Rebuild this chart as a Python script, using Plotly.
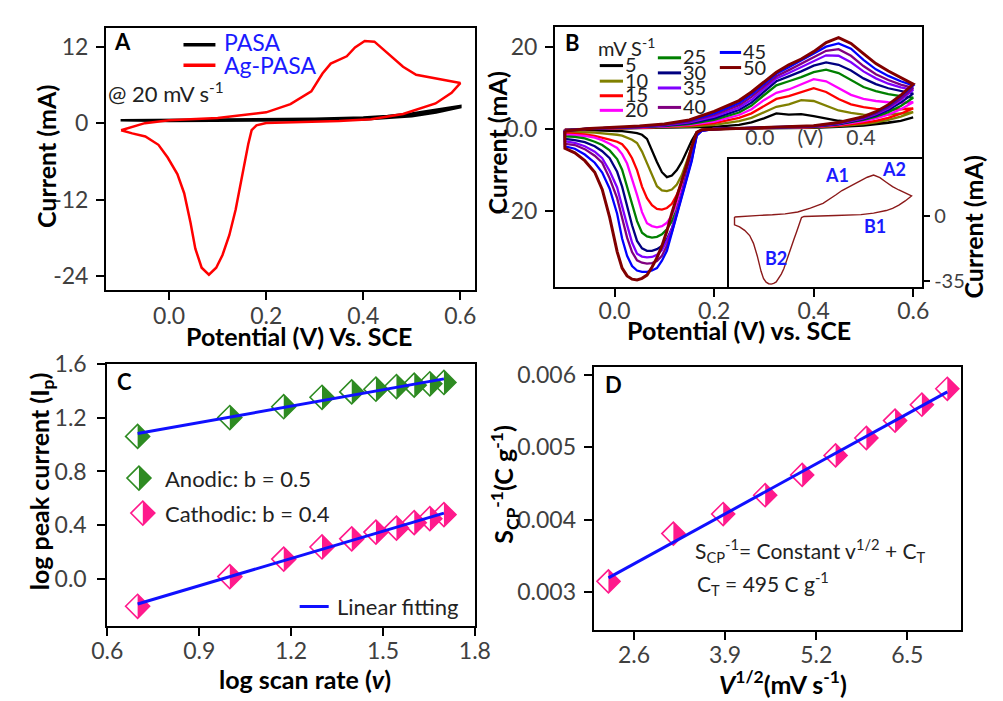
import numpy as np
import plotly.graph_objects as go

W, H = 1003, 701
FONT = "Lato"
TICKC = "#404040"

# ---------------- Panel A data (potential V, current mA) ----------------
pasa_v = [-0.1, 0.0, 0.1, 0.2, 0.3, 0.4, 0.45, 0.5, 0.55, 0.6,
          0.6, 0.55, 0.5, 0.45, 0.4, 0.3, 0.2, 0.1, 0.0, -0.1]
pasa_i = [0.45, 0.5, 0.55, 0.6, 0.7, 0.9, 1.1, 1.5, 2.1, 2.7,
          2.5, 1.7, 1.1, 0.8, 0.6, 0.45, 0.4, 0.35, 0.35, 0.45]
agpasa_v = [-0.099, -0.05, 0.0, 0.1, 0.2, 0.25, 0.293, 0.316, 0.333, 0.366, 0.383, 0.403,
            0.423, 0.449, 0.482, 0.509, 0.549, 0.6, 0.582, 0.549, 0.482, 0.416, 0.35, 0.2,
            0.18, 0.17, 0.163, 0.150, 0.137, 0.124, 0.110, 0.097, 0.082, 0.067, 0.054, 0.044,
            0.031, 0.017, -0.003, -0.022, -0.049, -0.076, -0.099]
agpasa_i = [-1.1, 0.0, 0.44, 0.8, 1.7, 3.0, 5.0, 7.8, 9.35, 10.5, 11.9, 12.9,
            12.8, 11.1, 8.85, 7.6, 7.05, 6.3, 4.77, 3.1, 1.45, 0.6, 0.34, 0.03,
            -0.33, -1.1, -3.3, -8.5, -13.6, -17.6, -20.7, -22.7, -23.8, -22.7, -19.7, -15.6,
            -11.0, -8.0, -5.4, -3.4, -2.1, -1.6, -1.1]

# ---------------- Panel B data ----------------
scan_rates = [5, 10, 15, 20, 25, 30, 35, 40, 45, 50]
scan_colors = ["#000000", "#808000", "#ff0000", "#ff00ff", "#008000",
               "#000080", "#8000ff", "#800080", "#0000ff", "#800000"]
fwd_v = [-0.1, -0.05, 0.0, 0.05, 0.1, 0.15, 0.2, 0.25, 0.275, 0.3, 0.325, 0.35,
         0.375, 0.4, 0.425, 0.45, 0.475, 0.5, 0.525, 0.55, 0.575, 0.6]
rev_v = [0.6, 0.575, 0.55, 0.525, 0.5, 0.45, 0.4, 0.3, 0.2, 0.175, 0.165, 0.155,
         0.145, 0.135, 0.125, 0.115, 0.105, 0.095, 0.085, 0.075, 0.065, 0.055, 0.045,
         0.035, 0.025, 0.015, 0.005, -0.01, -0.025, -0.04, -0.06, -0.08, -0.1]

fwd_05 = [-0.1, 0.0, 0.05, 0.1, 0.2, 0.3, 0.5, 1.0, 1.6, 2.6, 3.8, 3.5, 3.6, 3.1, 2.5, 2.0, 1.7, 1.6, 1.5, 1.6, 2.0, 2.8]
fwd_10 = [-0.1, 0.05, 0.1, 0.2, 0.35, 0.6, 1.0, 1.9, 2.7, 4.0, 5.4, 6.0, 7.0, 6.8, 5.6, 4.5, 3.9, 3.5, 3.4, 3.5, 3.8, 4.1]
fwd_15 = [-0.2, 0.05, 0.15, 0.3, 0.5, 0.8, 1.4, 2.7, 3.8, 5.6, 7.3, 8.0, 9.0, 9.9, 9.0, 7.3, 6.0, 5.3, 4.9, 4.7, 4.8, 5.0]
fwd_20 = [-0.2, 0.1, 0.2, 0.35, 0.6, 1.0, 1.8, 3.4, 4.8, 7.0, 8.8, 9.6, 10.8, 12.1, 11.6, 10.0, 8.3, 7.3, 6.8, 6.5, 6.4, 6.5]
fwd_25 = [-0.3, 0.1, 0.25, 0.4, 0.7, 1.2, 2.2, 4.0, 5.7, 8.2, 10.6, 11.6, 12.6, 13.8, 14.4, 13.6, 11.8, 10.2, 9.2, 8.5, 8.0, 7.6]
fwd_30 = [-0.3, 0.1, 0.3, 0.45, 0.8, 1.4, 2.6, 4.6, 6.4, 9.0, 11.6, 12.8, 14.0, 15.4, 16.2, 15.6, 14.2, 12.3, 10.9, 9.9, 9.2, 8.6]
fwd_35 = [-0.4, 0.1, 0.3, 0.5, 0.9, 1.6, 3.0, 5.2, 7.1, 9.8, 12.3, 13.6, 15.0, 16.6, 17.9, 17.8, 16.2, 14.0, 12.3, 11.0, 10.1, 9.5]
fwd_40 = [-0.4, 0.1, 0.35, 0.55, 1.0, 1.8, 3.4, 5.8, 7.8, 10.4, 12.8, 14.3, 15.8, 17.5, 19.0, 19.4, 17.8, 15.3, 13.3, 11.9, 10.8, 10.0]
fwd_45 = [-0.5, 0.1, 0.35, 0.6, 1.1, 2.0, 3.8, 6.3, 8.4, 10.9, 13.4, 15.0, 16.6, 18.3, 20.0, 20.8, 19.5, 16.8, 14.5, 12.9, 11.6, 10.6]
fwd_50 = [-0.5, 0.1, 0.4, 0.7, 1.2, 2.2, 4.3, 6.9, 9.0, 11.4, 13.8, 15.6, 17.0, 18.8, 21.0, 22.2, 20.8, 18.3, 15.9, 14.1, 12.5, 10.9]

rev_05 = [2.8, 2.0, 1.5, 1.1, 0.8, 0.5, 0.3, 0.15, 0.0, -0.3, -0.8, -2.8, -5.5, -8.0, -10.0, -11.3, -11.7,
          -10.5, -8.0, -5.0, -2.4, -1.4, -1.0, -0.8, -0.6, -0.5, -0.5, -0.4, -0.4, -0.35, -0.3, -0.3, -0.3]
rev_10 = [4.1, 3.0, 2.2, 1.6, 1.2, 0.7, 0.4, 0.2, 0.0, -0.3, -0.9, -4.5, -7.8, -11.2, -13.5, -14.7, -15.1,
          -14.9, -13.9, -11.3, -8.3, -5.5, -3.4, -2.6, -2.0, -1.6, -1.4, -1.2, -1.1, -0.9, -0.8, -0.75, -0.7]
rev_15 = [5.0, 3.7, 2.7, 2.0, 1.5, 0.8, 0.45, 0.2, 0.0, -0.3, -1.0, -5.0, -9.3, -12.8, -16.0, -18.2, -19.2,
          -19.6, -19.4, -18.5, -16.8, -14.0, -10.0, -7.1, -5.1, -3.7, -3.1, -2.6, -2.1, -1.7, -1.3, -1.1, -1.0]
rev_20 = [6.5, 4.8, 3.5, 2.6, 1.9, 1.0, 0.5, 0.25, 0.0, -0.3, -1.1, -5.5, -10.3, -14.6, -18.3, -21.0, -22.8,
          -23.6, -23.9, -23.6, -22.9, -20.2, -16.0, -11.9, -8.4, -6.1, -4.6, -3.6, -2.7, -2.1, -1.7, -1.5, -1.4]
rev_25 = [7.6, 5.6, 4.1, 3.0, 2.2, 1.1, 0.55, 0.25, 0.0, -0.3, -1.2, -6.0, -11.0, -15.8, -19.6, -22.4, -24.4,
          -25.6, -26.2, -26.4, -26.1, -25.2, -22.4, -18.4, -14.0, -9.9, -7.3, -5.2, -3.9, -3.1, -2.3, -1.9, -1.8]
rev_30 = [8.6, 6.4, 4.6, 3.3, 2.4, 1.2, 0.6, 0.3, 0.0, -0.35, -1.3, -6.5, -11.3, -16.0, -20.4, -24.2, -26.8,
          -28.4, -29.2, -29.6, -29.6, -29.0, -27.2, -23.4, -18.5, -14.0, -10.4, -7.1, -5.4, -4.2, -3.2, -2.7, -2.4]
rev_35 = [9.5, 7.0, 5.0, 3.6, 2.6, 1.3, 0.65, 0.3, 0.0, -0.4, -1.4, -7.0, -11.4, -16.0, -20.2, -24.3, -27.2,
          -29.4, -30.6, -31.1, -31.2, -31.0, -30.3, -27.6, -23.3, -18.5, -14.2, -10.2, -7.1, -5.5, -4.2, -3.4, -3.0]
rev_40 = [10.0, 7.4, 5.3, 3.8, 2.7, 1.4, 0.7, 0.3, 0.0, -0.4, -1.5, -7.4, -11.8, -16.3, -20.6, -25.0, -28.4,
          -30.8, -32.1, -32.6, -32.7, -32.5, -31.9, -29.9, -26.4, -21.5, -16.8, -12.0, -8.2, -6.5, -4.9, -3.9, -3.6]
rev_45 = [10.6, 7.9, 5.6, 4.0, 2.9, 1.5, 0.75, 0.3, 0.0, -0.45, -1.6, -7.8, -12.2, -16.8, -21.3, -25.7, -29.6,
          -32.0, -33.8, -34.4, -34.7, -34.7, -34.4, -33.3, -30.8, -26.6, -20.6, -14.5, -10.6, -8.2, -6.2, -4.8, -4.2]
rev_50 = [10.9, 8.2, 5.9, 4.2, 3.0, 1.6, 0.8, 0.35, 0.0, -0.2, -0.8, -4.3, -8.7, -12.5, -16.5, -20.4, -24.8,
          -28.4, -31.3, -33.6, -35.5, -36.3, -36.7, -36.5, -35.7, -33.8, -29.8, -21.5, -14.7, -10.5, -7.7, -5.8, -4.7]

fwd_all = [fwd_05, fwd_10, fwd_15, fwd_20, fwd_25, fwd_30, fwd_35, fwd_40, fwd_45, fwd_50]
rev_all = [rev_05, rev_10, rev_15, rev_20, rev_25, rev_30, rev_35, rev_40, rev_45, rev_50]

# ---------------- Panel C data ----------------
log_scan = [0.699, 1.0, 1.176, 1.301, 1.398, 1.477, 1.544, 1.602, 1.653, 1.699]
log_ip_anodic = [1.06, 1.20, 1.28, 1.35, 1.39, 1.41, 1.43, 1.44, 1.45, 1.46]
log_ip_cathodic = [-0.20, 0.02, 0.15, 0.24, 0.30, 0.35, 0.38, 0.42, 0.45, 0.48]

# ---------------- Panel D data ----------------
sqrt_scan = [2.236, 3.162, 3.873, 4.472, 5.0, 5.477, 5.916, 6.325, 6.708, 7.071]
inv_scp = [0.00315, 0.00381, 0.00408, 0.00434, 0.00462, 0.00489, 0.00513, 0.00537, 0.00559, 0.00581]

GREEN = "#2e8b22"
PINK = "#ff1a8c"
FITBLUE = "#1010ff"
LEGBLUE = "#1a1aff"


def px(x):
    return x / W


def py(y):
    return 1 - y / H


fig = go.Figure()

# Panel A
fig.add_trace(go.Scatter(x=pasa_v, y=pasa_i, mode="lines", line=dict(color="black", width=2.6),
                         xaxis="x", yaxis="y", showlegend=False))
fig.add_trace(go.Scatter(x=agpasa_v, y=agpasa_i, mode="lines", line=dict(color="#ff0000", width=2.5),
                         xaxis="x", yaxis="y", showlegend=False))

# Panel B
for rate, col, fi, ri in zip(scan_rates, scan_colors, fwd_all, rev_all):
    xs = fwd_v + rev_v + [fwd_v[0]]
    ys = fi + ri + [fi[0]]
    fig.add_trace(go.Scatter(x=xs, y=ys, mode="lines",
                             line=dict(color=col, width=3 if rate == 50 else 2.3),
                             xaxis="x2", yaxis="y2", showlegend=False, name=f"{rate} mV/s"))

# Inset (50 mV/s)
fig.add_trace(go.Scatter(x=fwd_v + rev_v + [fwd_v[0]], y=fwd_50 + rev_50 + [fwd_50[0]], mode="lines",
                         line=dict(color="#8b1a1a", width=1.4), xaxis="x3", yaxis="y3", showlegend=False))

shapes = []


def half_fill(xref, yref, xa, ya, r, color, layer="below"):
    return dict(type="path", xref=xref, yref=yref, xsizemode="pixel", ysizemode="pixel",
                xanchor=xa, yanchor=ya, path=f"M0,{r} L{r},0 L0,{-r} Z",
                fillcolor=color, line=dict(width=0), layer=layer)


# Panel C
RC = 12
for yy, col in ((log_ip_anodic, GREEN), (log_ip_cathodic, PINK)):
    fig.add_trace(go.Scatter(x=log_scan, y=yy, mode="markers",
                             marker=dict(symbol="diamond-open", size=2 * RC / 1.3,
                                         color=col, line=dict(color=col, width=1.6)),
                             xaxis="x4", yaxis="y4", showlegend=False))
    for xv, yv in zip(log_scan, yy):
        shapes.append(half_fill("x4", "y4", xv, yv, RC, col))
    k, b = np.polyfit(log_scan, yy, 1)
    xf = [log_scan[0], log_scan[-1]]
    fig.add_trace(go.Scatter(x=xf, y=[k * v + b for v in xf], mode="lines",
                             line=dict(color=FITBLUE, width=3), xaxis="x4", yaxis="y4", showlegend=False))

# Panel D
RD = 11.5
fig.add_trace(go.Scatter(x=sqrt_scan, y=inv_scp, mode="markers",
                         marker=dict(symbol="diamond-open", size=2 * RD / 1.3, color=PINK,
                                     line=dict(color=PINK, width=1.6)),
                         xaxis="x5", yaxis="y5", showlegend=False))
for xv, yv in zip(sqrt_scan, inv_scp):
    shapes.append(half_fill("x5", "y5", xv, yv, RD, PINK))
kd, bd = np.polyfit(sqrt_scan, inv_scp, 1)
xfd = [sqrt_scan[0], sqrt_scan[-1]]
fig.add_trace(go.Scatter(x=xfd, y=[kd * v + bd for v in xfd], mode="lines",
                         line=dict(color=FITBLUE, width=3), xaxis="x5", yaxis="y5", showlegend=False))

# ---------- legend decorations ----------
def hline(x0, x1, y, color, width=3):
    return dict(type="line", xref="paper", yref="paper", x0=px(x0), x1=px(x1), y0=py(y), y1=py(y),
                line=dict(color=color, width=width), layer="above")


shapes.append(hline(173, 206, 30.7, "black", 3.5))
shapes.append(hline(173, 206, 51.7, "#ff0000", 3.5))

b_leg_pos = [(603, 627, 52), (603, 627, 68), (603, 627, 83), (603, 627, 98),
             (663, 687, 44), (663, 687, 59.5), (663, 687, 75), (663, 687, 95),
             (727, 749, 38.5), (727, 749, 54)]
for (x0, x1, yl), col in zip(b_leg_pos, scan_colors):
    shapes.append(hline(x0, x1, yl, col, 3))

shapes.append(hline(293, 323, 608, FITBLUE, 3))

for (cx, cy, col) in ((127, 476, GREEN), (131, 512, PINK)):
    shapes.append(dict(type="path", xref="paper", yref="paper", xsizemode="pixel", ysizemode="pixel",
                       xanchor=px(cx), yanchor=py(cy), path=f"M{-RC},0 L0,{RC} L{RC},0 L0,{-RC} Z",
                       fillcolor="rgba(0,0,0,0)", line=dict(color=col, width=1.6), layer="above"))
    shapes.append(half_fill("paper", "paper", px(cx), py(cy), RC, col, layer="above"))

# ---------- annotations ----------
annotations = []


def ann(text, x, y, size=22, color="#000000", xanchor="left", angle=0, bold=False):
    t = f"<b>{text}</b>" if bold else text
    annotations.append(dict(text=t, x=px(x), y=py(y), xref="paper", yref="paper", showarrow=False,
                            xanchor=xanchor, yanchor="middle", textangle=angle,
                            font=dict(family=FONT, size=size, color=color)))


TS = 25  # axis title size
# panel letters
ann("A", 99, 27, 22, bold=True)
ann("B", 565, 28, 22, bold=True)
ann("C", 102, 377, 22, bold=True)
ann("D", 606, 380, 22, bold=True)

# axis titles
ann("Potential (V) Vs. SCE", 292, 330, TS, xanchor="center", bold=True)
ann("Current (mA)", 31, 146, TS, xanchor="center", angle=-90, bold=True)
ann("Potential (V) vs. SCE", 747, 324, TS, xanchor="center", bold=True)
ann("Current (mA)", 497, 132, TS, xanchor="center", angle=-90, bold=True)
ann("Current (mA)", 989, 218, TS, xanchor="center", angle=-90, bold=True)
ann("log scan rate (<i>v</i>)", 299, 682, TS, xanchor="center", bold=True)
ann("log peak current (I<sub>p</sub>)", 26, 479, TS, xanchor="center", angle=-90, bold=True)
ann("<i>V</i><sup>1/2</sup>(mV s<sup>-1</sup>)", 792, 686, TS, xanchor="center", bold=True)
ann("S<sub>CP</sub><sup>-1</sup>(C g<sup>-1</sup>)", 505, 482, TS, xanchor="center", angle=-90, bold=True)

# panel A legend
ann("PASA", 213, 28, 23, color=LEGBLUE)
ann("Ag-PASA", 213, 51, 23, color=LEGBLUE)
ann("@ 20 mV s<sup>-1</sup>", 93, 80, 22, color="#222222")

# panel B legend
ann("mV S<sup>-1</sup>", 599, 33, 20, color="#222222")
b_txt_pos = [(627, 50), (627, 66.5), (627, 81.5), (627, 97),
             (687, 42.5), (687, 58.5), (687, 74), (687, 94),
             (749, 37.5), (749, 53.5)]
for (tx, ty), rate in zip(b_txt_pos, scan_rates):
    ann(str(rate), tx, ty, 20, color="#222222")

# inset labels
ann("A1", 848, 164, 18, color=LEGBLUE, xanchor="center", bold=True)
ann("A2", 907, 158, 18, color=LEGBLUE, xanchor="center", bold=True)
ann("B1", 887, 217, 18, color=LEGBLUE, xanchor="center", bold=True)
ann("B2", 785, 250, 18, color=LEGBLUE, xanchor="center", bold=True)

# panel C legend
ann("Anodic: b = 0.5", 152, 476, 22, color="#222222")
ann("Cathodic: b = 0.4", 152, 512, 22, color="#222222")
ann("Linear fitting", 329, 608, 22, color="#222222")

# panel D text
ann("S<sub>CP</sub><sup>-1</sup>= Constant v<sup>1/2</sup> + C<sub>T</sub>", 699, 550, 21, color="#222222")
ann("C<sub>T</sub> = 495 C g<sup>-1</sup>", 701, 584, 21, color="#222222")

# ---------- axes ----------
tickfont = dict(family=FONT, size=23, color=TICKC)
base = dict(showline=True, linewidth=2, linecolor="black", mirror=True, ticks="outside",
            ticklen=8, tickwidth=1.5, tickcolor="black", showgrid=False, zeroline=False,
            tickfont=tickfont)
xbase = dict(base, ticklabelstandoff=-4)
ybase = dict(base, ticklabelstandoff=3)

layout_axes = dict(
    xaxis=dict(xbase, domain=[px(93), px(474)], range=[-0.13, 0.63], anchor="y",
               tickvals=[0, 0.2, 0.4, 0.6], ticktext=["0.0", "0.2", "0.4", "0.6"]),
    yaxis=dict(ybase, domain=[py(283), py(13)], range=[-26.25, 15.0], anchor="x",
               tickvals=[12, 0, -12, -24], ticktext=["12", "0", "-12", "-24"]),
    xaxis2=dict(xbase, domain=[px(556.7), px(936)], range=[-0.12, 0.618], anchor="y2",
                tickvals=[0, 0.2, 0.4, 0.6], ticktext=["0.0", "0.2", "0.4", "0.6"],
                ticklabelstandoff=-6),
    yaxis2=dict(ybase, domain=[py(280), py(12.7)], range=[-38.5, 24.7], anchor="x2",
                tickvals=[20, 0, -20], ticktext=["20", "0.0", "-20"]),
    xaxis3=dict(base, domain=[px(736.7), px(936)], range=[-0.121, 0.642], anchor="y3", side="top",
                ticks="", tickvals=[0, 0.2, 0.4], ticktext=["0.0", "(V)", "0.4"],
                ticklabelstandoff=3,
                tickfont=dict(family=FONT, size=21, color=TICKC)),
    yaxis3=dict(base, domain=[py(280), py(147.7)], range=[-38.5, 31], anchor="x3", side="right",
                tickvals=[0, -35], ticktext=["0", "-35"], ticklen=6,
                tickfont=dict(family=FONT, size=20, color=TICKC)),
    xaxis4=dict(xbase, domain=[px(94.3), px(474)], range=[0.6, 1.8], anchor="y4",
                tickvals=[0.6, 0.9, 1.2, 1.5, 1.8], ticktext=["0.6", "0.9", "1.2", "1.5", "1.8"]),
    yaxis4=dict(ybase, domain=[py(627.7), py(358.3)], range=[-0.344, 1.6], anchor="x4",
                tickvals=[0, 0.4, 0.8, 1.2, 1.6], ticktext=["0.0", "0.4", "0.8", "1.2", "1.6"],
                ticklabelstandoff=6),
    xaxis5=dict(xbase, domain=[px(596.7), px(976)], range=[2.025, 7.264], anchor="y5",
                tickvals=[2.6, 3.9, 5.2, 6.5], ticktext=["2.6", "3.9", "5.2", "6.5"]),
    yaxis5=dict(ybase, domain=[py(631.7), py(362.3)], range=[0.002484, 0.006104], anchor="x5",
                tickvals=[0.003, 0.004, 0.005, 0.006], ticktext=["0.003", "0.004", "0.005", "0.006"]),
)

fig.update_layout(width=W, height=H, margin=dict(l=0, r=0, t=0, b=0),
                  paper_bgcolor="white", plot_bgcolor="white", showlegend=False,
                  font=dict(family=FONT), shapes=shapes, annotations=annotations, **layout_axes)

fig.write_html("out.html")
